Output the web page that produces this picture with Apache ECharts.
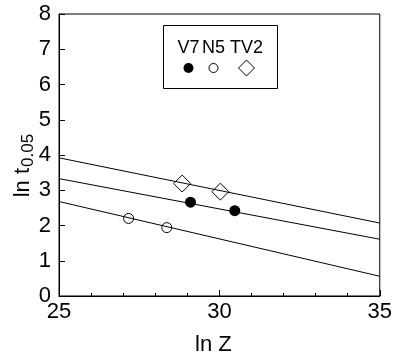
<!DOCTYPE html>
<html>
<head>
<meta charset="utf-8">
<script src="https://cdn.jsdelivr.net/npm/echarts@6/dist/echarts.min.js"></script>
<style>
  html, body { margin: 0; padding: 0; background: #fff; }
  #chart { width: 395px; height: 361px; }
</style>
</head>
<body>
<div id="chart"></div>
<script>
// Fitted lines: [ln Z, ln t0.05] at the two ends of the x range
const upperLine = [[25, 3.92], [35, 2.07]];
const middleLine = [[25, 3.33], [35, 1.61]];
const lowerLine = [[25, 2.68], [35, 0.56]];

// Measured points per sample
const seriesNames = ['V7', 'N5', 'TV2'];
const v7Points = [[29.10, 2.66], [30.48, 2.42]];
const n5Points = [[27.17, 2.20], [28.36, 1.94]];
const tv2Points = [[28.84, 3.19], [30.03, 2.96]];

// Axis ranges
const xRange = [25, 35];
const yRange = [0, 8];

const FONT = 'Liberation Sans, Arial, Helvetica, sans-serif';
const chart = echarts.init(document.getElementById('chart'), null, { renderer: 'canvas' });

const lineStyle = { color: '#000', width: 1 };
function fitLine(data) {
  return {
    type: 'line', data: data, showSymbol: false, symbol: 'none',
    lineStyle: lineStyle, silent: true, z: 2, animation: false
  };
}

// Legend drawn as a small framed key
const legendX = [188.5, 213.5, 246.5];
const legendGraphics = [
  { type: 'rect', shape: { x: 163.5, y: 25.5, width: 114, height: 63 },
    style: { fill: '#fff', stroke: '#000', lineWidth: 1 }, z: 10 },
  { type: 'circle', shape: { cx: legendX[0], cy: 68, r: 5 }, style: { fill: '#000' }, z: 11 },
  { type: 'circle', shape: { cx: legendX[1], cy: 68, r: 4.5 }, style: { fill: 'none', stroke: '#000', lineWidth: 1 }, z: 11 },
  { type: 'polygon', shape: { points: [[legendX[2], 60], [legendX[2] + 8, 68], [legendX[2], 76], [legendX[2] - 8, 68]] },
    style: { fill: 'none', stroke: '#000', lineWidth: 1 }, z: 11 }
];
seriesNames.forEach(function (name, i) {
  legendGraphics.push({
    type: 'text', x: legendX[i], y: 48, z: 11,
    style: { text: name, fill: '#000', font: '18px ' + FONT, align: 'center', verticalAlign: 'middle' }
  });
});

// Rotated y-axis title with subscript
legendGraphics.push({
  type: 'group', x: 23, y: 165, rotation: Math.PI / 2,
  children: [
    { type: 'text', x: -3, y: 0,
      style: { text: 'ln t', fill: '#000', font: '22px ' + FONT, align: 'right', verticalAlign: 'middle' } },
    { type: 'text', x: -2, y: 5,
      style: { text: '0.05', fill: '#000', font: '17px ' + FONT, align: 'left', verticalAlign: 'middle' } }
  ]
});

chart.setOption({
  animation: false,
  backgroundColor: '#fff',
  grid: { left: 59, right: 13, top: 14, bottom: 63, show: true, borderColor: '#000', borderWidth: 1, backgroundColor: 'transparent' },
  xAxis: {
    type: 'value', min: xRange[0], max: xRange[1], interval: 5,
    name: 'ln Z', nameLocation: 'middle', nameGap: 38,
    nameTextStyle: { color: '#000', fontSize: 22, fontFamily: FONT, padding: [0, 12, 0, 0] },
    axisLine: { show: true, lineStyle: { color: '#000', width: 1 } },
    axisTick: { show: true, inside: true, length: 6, lineStyle: { color: '#000' } },
    minorTick: { show: true, splitNumber: 5, length: 3, lineStyle: { color: '#000' } },
    splitLine: { show: false },
    axisLabel: { color: '#000', fontSize: 22, fontFamily: FONT, margin: 5 }
  },
  yAxis: {
    type: 'value', min: yRange[0], max: yRange[1], interval: 1,
    axisLine: { show: true, lineStyle: { color: '#000', width: 1 } },
    axisTick: { show: true, inside: true, length: 6, lineStyle: { color: '#000' } },
    splitLine: { show: false },
    axisLabel: { color: '#000', fontSize: 22, fontFamily: FONT, margin: 8 }
  },
  graphic: legendGraphics,
  series: [
    fitLine(upperLine),
    fitLine(middleLine),
    fitLine(lowerLine),
    { name: seriesNames[0], type: 'scatter', data: v7Points, symbol: 'circle', symbolSize: 11,
      itemStyle: { color: '#000', opacity: 1 }, z: 3 },
    { name: seriesNames[1], type: 'scatter', data: n5Points, symbol: 'circle', symbolSize: 10,
      itemStyle: { color: 'rgba(0,0,0,0)', borderColor: '#000', borderWidth: 1, opacity: 1 }, z: 3 },
    { name: seriesNames[2], type: 'scatter', data: tv2Points, symbol: 'diamond', symbolSize: 17,
      itemStyle: { color: 'rgba(0,0,0,0)', borderColor: '#000', borderWidth: 1, opacity: 1 }, z: 3 }
  ]
});
</script>
</body>
</html>
